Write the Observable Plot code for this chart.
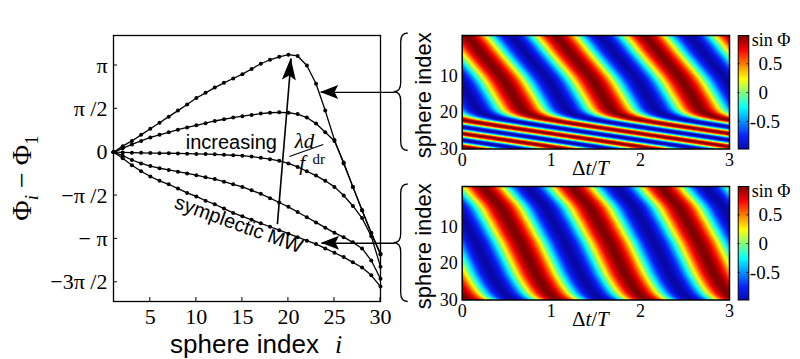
<!DOCTYPE html>
<html><head><meta charset="utf-8">
<script src="https://cdn.jsdelivr.net/npm/d3@7"></script>
<script src="https://cdn.jsdelivr.net/npm/@observablehq/plot@0.6"></script>
<style>
body{margin:0;background:#fff;}
#fig{position:relative;width:800px;height:359px;overflow:hidden;background:#fff;}
#fig svg{position:absolute;overflow:visible;}
</style></head><body><div id="fig"></div>
<script>
// ---------- data (phases in units of π) ----------
const sphereIndex = d3.range(1, 31);
const curveA = [0,0.07,0.13,0.20,0.27,0.34,0.41,0.48,0.55,0.625,0.685,0.745,0.80,0.85,0.90,0.96,1.02,1.066,1.10,1.125,1.11,1.00,0.79,0.48,0.14,-0.13,-0.40,-0.67,-0.93,-1.17];
const curveB = [0,0.045,0.09,0.13,0.17,0.20,0.23,0.26,0.285,0.31,0.335,0.36,0.38,0.40,0.415,0.43,0.445,0.455,0.46,0.455,0.44,0.40,0.33,0.23,0.13,-0.12,-0.40,-0.67,-0.94,-1.18];
const curveC = [0,-0.003,-0.005,-0.007,-0.01,-0.011,-0.012,-0.014,-0.017,-0.02,-0.022,-0.025,-0.03,-0.035,-0.04,-0.05,-0.065,-0.08,-0.10,-0.13,-0.17,-0.22,-0.27,-0.33,-0.40,-0.50,-0.62,-0.76,-0.97,-1.32];
const curveD = [0,-0.04,-0.09,-0.13,-0.16,-0.185,-0.205,-0.225,-0.245,-0.265,-0.29,-0.31,-0.34,-0.37,-0.40,-0.44,-0.48,-0.53,-0.58,-0.63,-0.69,-0.75,-0.81,-0.87,-0.93,-0.98,-1.04,-1.11,-1.25,-1.46];
const curveE = [0,-0.07,-0.15,-0.22,-0.28,-0.33,-0.37,-0.42,-0.47,-0.51,-0.56,-0.60,-0.65,-0.70,-0.74,-0.78,-0.82,-0.86,-0.90,-0.94,-0.98,-1.02,-1.06,-1.11,-1.16,-1.21,-1.27,-1.33,-1.42,-1.55];
const curves = [curveA, curveB, curveC, curveD, curveE];

const xTicks = [5, 10, 15, 20, 25, 30];
const yTicks = [1, 0.5, 0, -0.5, -1, -1.5];
const yTickLabels = ["π", "π /2", "0", "−π /2", "− π", "−3π /2"];

// heat maps: phase offset of sin Φ per sphere (in periods T)
const topPhase = [0.12,0.155,0.185,0.22,0.255,0.29,0.325,0.36,0.395,0.43,0.46,0.49,0.515,0.54,0.565,0.59,0.615,0.64,0.665,0.71,0.80,0.98,1.23,1.50,1.78,2.06,2.34,2.62,2.90,3.18];
const bottomPhase = [0.30,0.335,0.375,0.41,0.44,0.465,0.485,0.51,0.535,0.555,0.58,0.60,0.625,0.65,0.67,0.69,0.71,0.73,0.75,0.77,0.79,0.81,0.83,0.855,0.88,0.905,0.935,0.965,1.01,1.075];
const bandPeriod = 1.0;
const heatXTicks = [0, 1, 2, 3];
const heatYTicks = [10, 20, 30];
const barTicks = [0.5, 0, -0.5];
const barTickLabels = ["0.5", "0", "-0.5"];
const jetStops = [-1, -0.75, -0.25, 0.25, 0.75, 1];
const jetColors = ["#0808a8", "#0a1eff", "#00ffff", "#ffff00", "#ff0000", "#800000"];

// annotations (data coordinates of left panel)
const arrowUp = [{x1: 18.8, y1: -0.83, x2: 20.3, y2: 1.08, len: 22, hw: 7}];
const arrowsIn = [{x1: 31.5, y1: 0.69, x2: 23.5, y2: 0.69, len: 18, hw: 7}, {x1: 31.5, y1: -1.05, x2: 23.6, y2: -1.05, len: 18, hw: 7}];
const increasingPos = [{x: 13.8, y: 0.04, t: "increasing"}];
const symplecticPos = [{x: 14.6, y: -0.834, t: "symplectic MW"}];
const lambdaPos = [{x: 21.75, y: 0.05, t: "λd"}];
const fracBar = [{x1: 20.1, y1: -0.05, x2: 23.78, y2: 0.089}];
const fPos = [{x: 21.5, y: -0.2, t: "f"}];
const drPos = [{x: 23.3, y: -0.135, t: "dr"}];

// ---------- helpers ----------
const serif = "'Liberation Serif','DejaVu Serif',serif";
const sans = "'Liberation Sans',Arial,sans-serif";
const NS = "http://www.w3.org/2000/svg";
function el(tag, attrs = {}, text) {
  const e = document.createElementNS(NS, tag);
  for (const k in attrs) e.setAttribute(k, attrs[k]);
  if (text != null) e.textContent = text;
  return e;
}
function rich(parts, attrs) {
  const t = el("text", attrs);
  for (const p of parts) t.appendChild(el("tspan", p.a || {}, p.t));
  return t;
}
const fig = document.getElementById("fig");
function place(svg, left, top) {
  svg.style.left = left + "px"; svg.style.top = top + "px"; fig.appendChild(svg);
}
const jet = {type: "linear", domain: jetStops, range: jetColors, interpolate: "rgb"};

// ---------- left panel ----------
const points = curves.flatMap((c, k) => c.map((v, j) => ({curve: k, i: sphereIndex[j], phi: v})));
const yLabelMap = new Map(yTicks.map((v, k) => [v, yTickLabels[k]]));

const leftTicks = (index, {x, y}, values, dim) => {
  const g = el("g", {stroke: "black", "stroke-width": 1});
  const bottom = dim.height - dim.marginBottom, left = dim.marginLeft;
  for (const v of xTicks) g.appendChild(el("line", {x1: x(v), x2: x(v), y1: bottom, y2: bottom - 4}));
  for (const v of yTicks) g.appendChild(el("line", {x1: left, x2: left + 4, y1: y(v), y2: y(v)}));
  return g;
};
const yLabel = (index, s, v, dim) => {
  const cy = dim.marginTop + (dim.height - dim.marginTop - dim.marginBottom) / 2 + 10;
  return rich([
    {t: "Φ"},
    {t: "i", a: {"font-style": "italic", "font-size": 19, dy: 7}},
    {t: " − Φ", a: {dy: -7}},
    {t: "1", a: {"font-size": 19, dy: 7}}
  ], {transform: `translate(${dim.marginLeft - 82},${cy}) rotate(-90)`, "text-anchor": "middle", "font-family": serif, "font-size": 28, fill: "black"});
};
const heads = (list) => (index, {x, y}) => {
  const g = el("g", {fill: "black"});
  for (const a of list) {
    const tx = x(a.x2), ty = y(a.y2), sx = x(a.x1), sy = y(a.y1);
    const L = Math.hypot(tx - sx, ty - sy), ux = (tx - sx) / L, uy = (ty - sy) / L;
    const bx = tx - ux * a.len, by = ty - uy * a.len, nx = -uy, ny = ux;
    const mx = tx - ux * a.len * 0.8, my = ty - uy * a.len * 0.8;
    g.appendChild(el("path", {d: `M${tx},${ty}L${bx + nx * a.hw},${by + ny * a.hw}L${mx},${my}L${bx - nx * a.hw},${by - ny * a.hw}Z`}));
  }
  return g;
};

const left = Plot.plot({
  width: 800, height: 359,
  marginLeft: 113, marginRight: 420, marginTop: 35, marginBottom: 58,
  x: {domain: [1, 30], axis: null},
  y: {domain: [-1.722, 1.346], axis: null},
  style: {background: "transparent", overflow: "visible"},
  marks: [
    Plot.line(points, {x: "i", y: "phi", z: "curve", stroke: "black", strokeWidth: 1.3}),
    Plot.dot(points, {x: "i", y: "phi", r: 2, fill: "black"}),
    Plot.frame({stroke: "black", strokeWidth: 1.3}),
    leftTicks,
    Plot.text(yTicks, {y: d => d, text: d => yLabelMap.get(d), frameAnchor: "left", textAnchor: "end", dx: -6, fontSize: 22, fontFamily: serif, fill: "black"}),
    Plot.text(xTicks, {x: d => d, text: d => String(d), frameAnchor: "bottom", lineAnchor: "top", dy: 7, fontSize: 22, fontFamily: serif, fill: "black"}),
    Plot.text(["sphere index"], {frameAnchor: "bottom", textAnchor: "middle", dx: -2.5, dy: 51, lineAnchor: "bottom", fontSize: 26, fontFamily: sans, fill: "black"}),
    Plot.text(["i"], {frameAnchor: "bottom", textAnchor: "middle", dx: 91.5, dy: 51, lineAnchor: "bottom", fontSize: 26, fontStyle: "italic", fontFamily: serif, fill: "black"}),
    yLabel,
    Plot.link(arrowUp, {x1: "x1", y1: "y1", x2: "x2", y2: "y2", stroke: "black", strokeWidth: 1.6}),
    Plot.link(arrowsIn, {x1: "x1", y1: "y1", x2: "x2", y2: "y2", stroke: "black", strokeWidth: 1.3}),
    heads(arrowUp), heads(arrowsIn),
    Plot.text(increasingPos, {x: "x", y: "y", text: "t", lineAnchor: "bottom", fontSize: 20, fontFamily: sans, fill: "black"}),
    Plot.text(symplecticPos, {x: "x", y: "y", text: "t", rotate: 20, fontSize: 20, fontFamily: sans, fill: "black"}),
    Plot.text(lambdaPos, {x: "x", y: "y", text: "t", lineAnchor: "bottom", fontSize: 21, fontStyle: "italic", fontFamily: serif, fill: "black"}),
    Plot.link(fracBar, {x1: "x1", y1: "y1", x2: "x2", y2: "y2", stroke: "black", strokeWidth: 1.1}),
    Plot.text(fPos, {x: "x", y: "y", text: "t", lineAnchor: "bottom", fontSize: 21, fontStyle: "italic", fontFamily: serif, fill: "black"}),
    Plot.text(drPos, {x: "x", y: "y", text: "t", lineAnchor: "bottom", fontSize: 15, fontFamily: serif, fill: "black"})
  ]
});
place(left, 0, 0);

// ---------- heat maps ----------
function phaseAt(phase, i) {
  if (i <= 1) return phase[0] + (i - 1) * (phase[1] - phase[0]);
  const u = Math.min(30, i);
  const j = Math.min(28, Math.floor(u - 1));
  const f = u - 1 - j;
  return phase[j] * (1 - f) + phase[j + 1] * f;
}
const brace = (index, s, v, dim) => {
  const yT = dim.marginTop - 2, yB = dim.height - dim.marginBottom + 2, ym = (yT + yB) / 2;
  const xl = dim.marginLeft, xe = xl - 54, xb = xl - 61, xt = xl - 68, r = 9;
  return el("path", {fill: "none", stroke: "black", "stroke-width": 1.3,
    d: `M${xe},${yT}Q${xb},${yT} ${xb},${yT + r}L${xb},${ym - r}Q${xb},${ym} ${xt},${ym}Q${xb},${ym} ${xb},${ym + r}L${xb},${yB - r}Q${xb},${yB} ${xe},${yB}`});
};
const deltaLabel = (index, s, v, dim) => {
  const cx = dim.marginLeft + (dim.width - dim.marginLeft - dim.marginRight) / 2 - 5;
  const by = dim.height - dim.marginBottom + 26;
  return rich([{t: "Δ"}, {t: "t", a: {"font-style": "italic"}}, {t: "/"}, {t: "T", a: {"font-style": "italic"}}],
    {x: cx, y: by, "text-anchor": "middle", "font-family": serif, "font-size": 21, fill: "black"});
};
function heatPanel(phase, top) {
  const heat = Plot.plot({
    width: 340, height: 170, marginLeft: 61.7, marginRight: 11, marginTop: 35, marginBottom: 21.5,
    x: {domain: [0, 3], axis: null}, y: {domain: [-1, 30], reverse: true, axis: null},
    color: jet,
    style: {background: "transparent", overflow: "visible"},
    marks: [
      Plot.raster({fill: (t, i) => Math.cos(2 * Math.PI * (t - phaseAt(phase, i)) / bandPeriod), x1: 0, x2: 3, y1: -1, y2: 30}),
      Plot.frame({stroke: "black", strokeWidth: 1.5}),
      Plot.text(heatXTicks, {x: d => d, text: d => String(d), frameAnchor: "bottom", lineAnchor: "top", dy: 4, fontSize: 18, fontFamily: serif, fill: "black"}),
      Plot.text(heatYTicks, {y: d => d, text: d => String(d), frameAnchor: "left", textAnchor: "end", dx: -4.5, fontSize: 18, fontFamily: serif, fill: "black"}),
      Plot.text(["sphere index"], {frameAnchor: "left", textAnchor: "middle", dx: -38.5, dy: 3, rotate: -90, fontSize: 22, fontFamily: sans, fill: "black"}),
      deltaLabel, brace
    ]
  });
  place(heat, 400, top);
}
function colorbar(top) {
  const cbTicks = (index, {y}, v, dim) => {
    const g = el("g", {stroke: "black", "stroke-width": 0.8});
    const l = dim.marginLeft, r = dim.width - dim.marginRight;
    for (const t of barTicks) {
      g.appendChild(el("line", {x1: l, x2: l + 2, y1: y(t), y2: y(t)}));
      g.appendChild(el("line", {x1: r - 2, x2: r, y1: y(t), y2: y(t)}));
    }
    return g;
  };
  const lab = new Map(barTicks.map((v, k) => [v, barTickLabels[k]]));
  const cb = Plot.plot({
    width: 100, height: 170, marginLeft: 37.7, marginRight: 51.7, marginTop: 35, marginBottom: 21.5,
    x: {domain: [0, 1], axis: null}, y: {domain: [-0.97, 1], axis: null},
    color: jet,
    style: {background: "transparent", overflow: "visible"},
    marks: [
      Plot.raster({fill: (x, y) => y, x1: 0, x2: 1, y1: -0.97, y2: 1}),
      Plot.frame({stroke: "black", strokeWidth: 1}),
      cbTicks,
      Plot.text(barTicks.filter(d => d >= 0), {y: d => d, text: d => lab.get(d), frameAnchor: "right", textAnchor: "start", dx: 9.7, fontSize: 19, fontFamily: serif, fill: "black"}),
      Plot.text(barTicks.filter(d => d < 0), {y: d => d, text: d => lab.get(d), frameAnchor: "right", textAnchor: "start", dx: 1, fontSize: 19, fontFamily: serif, fill: "black"}),
      Plot.text(["sin Φ"], {frameAnchor: "top-right", textAnchor: "start", lineAnchor: "middle", dx: 3, dy: 5, fontSize: 18, fontFamily: serif, fill: "black"})
    ]
  });
  place(cb, 700, top);
}
heatPanel(topPhase, 0);
colorbar(0);
heatPanel(bottomPhase, 151);
colorbar(151);
</script>
</body></html>
